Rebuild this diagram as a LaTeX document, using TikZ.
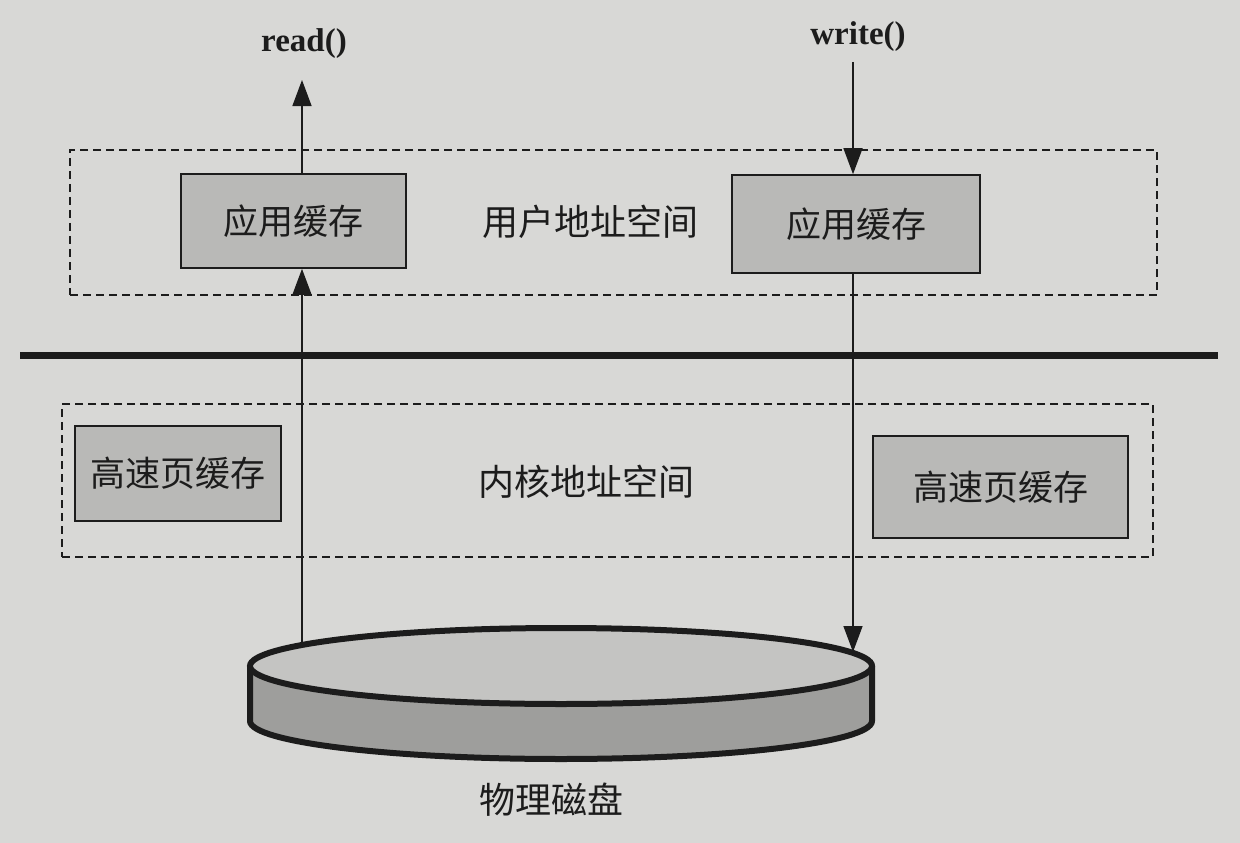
\documentclass[tikz,border=0pt]{standalone}
\usepackage{fontspec}
\setmainfont{Liberation Serif}
\newfontfamily\cjk{Noto Sans CJK SC}
\usetikzlibrary{arrows.meta,shapes.geometric}
\definecolor{paper}{HTML}{D8D8D6}
\definecolor{boxfill}{HTML}{B9B9B7}
\definecolor{ink}{HTML}{1C1C1C}
\definecolor{disktop}{HTML}{C4C4C2}
\definecolor{diskside}{HTML}{9E9E9C}
\begin{document}
\begin{tikzpicture}[x=1pt,y=-1pt,
  cachebox/.style={draw=ink, line width=1.6pt, fill=boxfill, inner sep=0pt,
    font=\cjk\fontsize{35}{40}\selectfont, text=ink},
  region/.style={draw=ink, line width=2pt, dash pattern=on 8pt off 5pt, inner sep=0pt},
  lbl/.style={font=\cjk\fontsize{36}{40}\selectfont, text=ink},
  fn/.style={font=\bfseries\fontsize{33}{38}\selectfont, text=ink},
  arr/.style={draw=ink, line width=1.5pt, -{Triangle[length=26pt,width=19pt]}},
  sep/.style={draw=ink, line width=7pt},
  diskline/.style={draw=ink, line width=6pt, line join=round}]
\fill[paper] (0,0) rectangle (1240,843);
\useasboundingbox (0,0) rectangle (1240,843);

% regions
\node[region, minimum width=1087pt, minimum height=145pt] (userbox) at (613.5,222.5) {};
\node[region, minimum width=1091pt, minimum height=153pt] (kernbox) at (607.5,480.5) {};

% separator
\coordinate (sepL) at (20,355);
\coordinate (sepR) at (1218,355);
\draw[sep] (sepL) -- (sepR);

% user space
\node[cachebox, minimum width=225pt, minimum height=94pt] (appL) at (293.5,221) {应用缓存};
\node[cachebox, minimum width=248pt, minimum height=98pt] (appR) at (856,224) {应用缓存};
\node[lbl] (user) at (590,222) {用户地址空间};

% kernel space
\node[cachebox, minimum width=206pt, minimum height=95pt] (pageL) at (178,473.5) {高速页缓存};
\node[cachebox, minimum width=255pt, minimum height=102pt] (pageR) at (1000.5,487) {高速页缓存};
\node[lbl] (kern) at (586,482) {内核地址空间};

% disk
\fill[diskside] (250,666) -- (250,721) arc[start angle=180,end angle=0,x radius=311,y radius=38]
  -- (872,666) arc[start angle=0,end angle=180,x radius=311,y radius=38] -- cycle;
\draw[diskline] (250,666) -- (250,721) arc[start angle=180,end angle=0,x radius=311,y radius=38]
  -- (872,666);
\node[ellipse, draw=ink, line width=6pt, fill=disktop, inner sep=0pt,
  minimum width=622pt, minimum height=76pt] (disk) at (561,666) {};
\node[lbl] (disklbl) at (551,800) {物理磁盘};

% labels
\node[fn] (readf) at (304,44) {read()};
\node[fn] (writef) at (858,37) {write()};

% read path
\coordinate (rdA) at (302,645);
\coordinate (rdB) at (302,80);
\draw[arr] (rdA) -- (rdA |- appL.south);
\draw[arr] (appL.north -| rdB) -- (rdB);

% write path
\coordinate (wrA) at (853,62);
\coordinate (wrB) at (853,652);
\draw[arr] (wrA) -- (wrA |- appR.north);
\draw[arr] (appR.south -| wrB) -- (wrB);
\end{tikzpicture}
\end{document}
